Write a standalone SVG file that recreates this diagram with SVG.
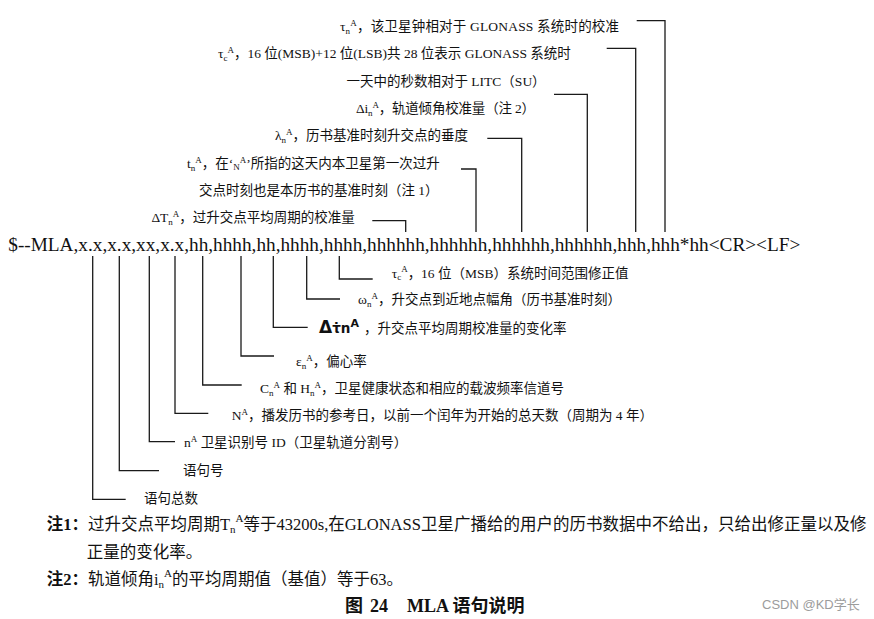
<svg xmlns="http://www.w3.org/2000/svg" width="874" height="619" viewBox="0 0 874 619">
<style>
.t{font-family:"Liberation Serif","Noto Sans CJK SC",serif;font-size:13.5px;fill:#111}
.s{font-size:9px}
.m{font-family:"Liberation Serif","Noto Sans CJK SC",serif;font-size:19.3px;fill:#111}
.n{font-family:"Liberation Serif","Noto Sans CJK SC",serif;font-size:16.5px;fill:#111}
.ns{font-size:11px}
.bd{font-weight:bold}
.cap{font-family:"Liberation Serif","Noto Sans CJK SC",serif;font-size:18px;font-weight:bold;fill:#111}
.b{font-family:"DejaVu Sans",sans-serif;font-weight:bold;fill:#111}
.wm{font-family:"Liberation Sans","Noto Sans CJK SC",sans-serif;font-size:13px;fill:#9c9c9c}
.ln{fill:none;stroke:#1a1a1a;stroke-width:1.3}
</style>
<rect width="874" height="619" fill="#fff"/>
<g id="sentence"><text class="m" x="8.3" y="251" textLength="792" lengthAdjust="spacingAndGlyphs">$--MLA,x.x,x.x,xx,x.x,hh,hhhh,hh,hhhh,hhhh,hhhhhh,hhhhhh,hhhhhh,hhhhhh,hhh,hhh*hh&lt;CR&gt;&lt;LF&gt;</text></g>
<g id="connectors">
<path class="ln" d="M636.7,20.7H665V232"/>
<path class="ln" d="M606.7,48.3H635.7V232"/>
<path class="ln" d="M554,94.3H587.3V232"/>
<path class="ln" d="M487.3,138.3H521.7V232"/>
<path class="ln" d="M461,169H476V232"/>
<path class="ln" d="M372.3,220.7H405.7V232"/>
<path class="ln" d="M339.3,256V279H372.7"/>
<path class="ln" d="M306.7,256V299H340"/>
<path class="ln" d="M273.3,256V327.3H307.7"/>
<path class="ln" d="M241,256V356H274"/>
<path class="ln" d="M202.7,256V385H241.7"/>
<path class="ln" d="M175,256V413.3H208.3"/>
<path class="ln" d="M149.3,256V441.7H175"/>
<path class="ln" d="M119.3,256V470.7H159"/>
<path class="ln" d="M92.7,256V499.3H125.7"/>
</g>
<g id="n-taun"><text class="t" x="340" y="31" textLength="279">τ<tspan class="s" dy="2.5">n</tspan><tspan class="s" dy="-8">A</tspan><tspan dy="5.5">，该卫星钟相对于 GLONASS 系统时的校准</tspan></text></g>
<g id="n-tauc"><text class="t" x="218" y="58">τ<tspan class="s" dy="2.5">c</tspan><tspan class="s" dy="-8">A</tspan><tspan dy="5.5">，16 位(MSB)+12 位(LSB)共 28 位表示 GLONASS 系统时</tspan></text>
<text class="t" x="346.5" y="86">一天中的秒数相对于 LITC（SU）</text></g>
<g id="n-di"><text class="t" x="356" y="113" textLength="179">Δi<tspan class="s" dy="2.5">n</tspan><tspan class="s" dy="-8">A</tspan><tspan dy="5.5">，轨道倾角校准量（注 2）</tspan></text></g>
<g id="n-lambda"><text class="t" x="275" y="140">λ<tspan class="s" dy="2.5">n</tspan><tspan class="s" dy="-8">A</tspan><tspan dy="5.5">，历书基准时刻升交点的垂度</tspan></text></g>
<g id="n-t"><text class="t" x="187" y="168">t<tspan class="s" dy="2.5">n</tspan><tspan class="s" dy="-8">A</tspan><tspan dy="5.5">，在‘</tspan><tspan class="s" dy="2">N</tspan><tspan class="s" dy="-7">A</tspan><tspan dy="5">’所指的这天内本卫星第一次过升</tspan></text>
<text class="t" x="199" y="195">交点时刻也是本历书的基准时刻（注 1）</text></g>
<g id="n-dT"><text class="t" x="151.4" y="222">ΔT<tspan class="s" dy="2.5">n</tspan><tspan class="s" dy="-8">A</tspan><tspan dy="5.5">，过升交点平均周期的校准量</tspan></text></g>
<g id="n-tauc2"><text class="t" x="391.7" y="277.5">τ<tspan class="s" dy="2.5">c</tspan><tspan class="s" dy="-8">A</tspan><tspan dy="5.5">，16 位（MSB）系统时间范围修正值</tspan></text></g>
<g id="n-omega"><text class="t" x="358" y="304">ω<tspan class="s" dy="2.5">n</tspan><tspan class="s" dy="-8">A</tspan><tspan dy="5.5">，升交点到近地点幅角（历书基准时刻）</tspan></text></g>
<g id="n-dtau"><text class="b" x="319" y="333"><tspan font-size="17">Δ</tspan><tspan font-size="13.5">τ̇n</tspan><tspan font-size="11" dy="-6">A</tspan></text>
<text class="t" x="364" y="333">，升交点平均周期校准量的变化率</text></g>
<g id="n-e"><text class="t" x="296" y="366">ε<tspan class="s" dy="2.5">n</tspan><tspan class="s" dy="-8">A</tspan><tspan dy="5.5">，偏心率</tspan></text></g>
<g id="n-ch"><text class="t" x="260" y="393">C<tspan class="s" dy="2.5">n</tspan><tspan class="s" dy="-8">A</tspan><tspan dy="5.5"> 和 H</tspan><tspan class="s" dy="2.5">n</tspan><tspan class="s" dy="-8">A</tspan><tspan dy="5.5">，卫星健康状态和相应的载波频率信道号</tspan></text></g>
<g id="n-N"><text class="t" x="231.7" y="420">N<tspan class="s" dy="-5.5">A</tspan><tspan dy="5.5">，播发历书的参考日，以前一个闰年为开始的总天数（周期为 4 年）</tspan></text></g>
<g id="n-n"><text class="t" x="184" y="447">n<tspan class="s" dy="-5.5">A</tspan><tspan dy="5.5"> 卫星识别号 ID（卫星轨道分割号）</tspan></text></g>
<g id="n-num"><text class="t" x="183" y="475">语句号</text></g>
<g id="n-total"><text class="t" x="144" y="503">语句总数</text></g>
<g id="notes">
<text class="n" x="46.7" y="530"><tspan class="bd">注1：</tspan>过升交点平均周期T<tspan class="ns" dy="3">n</tspan><tspan class="ns" dy="-11">A</tspan><tspan dy="8">等于43200s,在GLONASS卫星广播给的用户的历书数据中不给出，只给出修正量以及修</tspan></text>
<text class="n" x="86.7" y="558">正量的变化率。</text>
<text class="n" x="46.7" y="585"><tspan class="bd">注2：</tspan>轨道倾角i<tspan class="ns" dy="3">n</tspan><tspan class="ns" dy="-11">A</tspan><tspan dy="8">的平均周期值（基值）等于63。</tspan></text>
</g>
<g id="caption">
<text class="cap" x="345" y="612">图</text>
<text class="cap" x="370" y="612">24</text>
<text class="cap" x="407" y="612">MLA 语句说明</text>
</g>
<text class="wm" x="762" y="609">CSDN @KD学长</text>
</svg>
